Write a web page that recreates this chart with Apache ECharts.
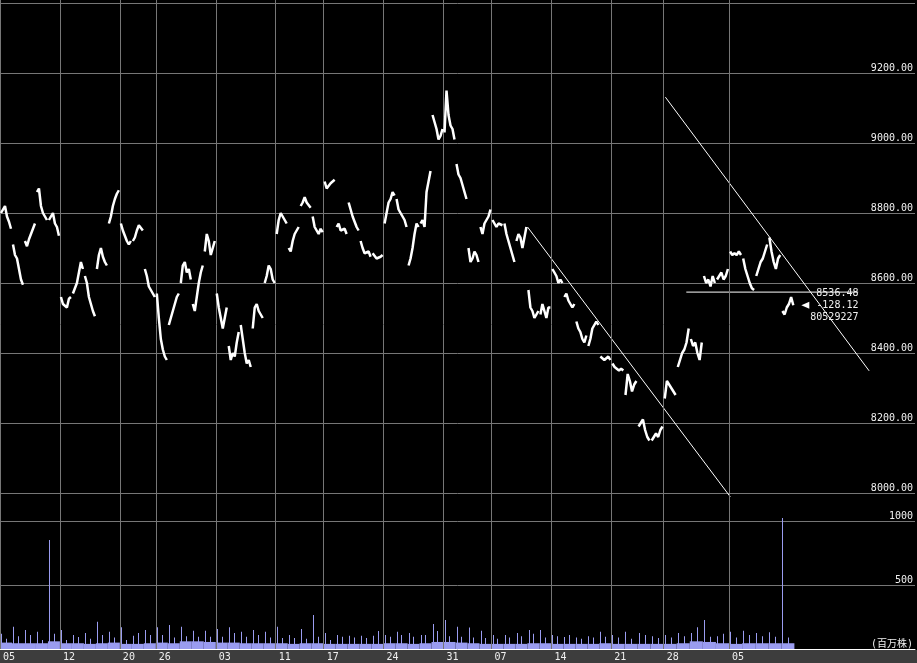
<!DOCTYPE html>
<html><head><meta charset="utf-8">
<script src="https://cdn.jsdelivr.net/npm/echarts@6/dist/echarts.min.js"></script>
<style>html,body{margin:0;padding:0;background:#000;overflow:hidden}#c{width:917px;height:663px}</style>
</head><body><div id="c"></div>
<script>
// ---- data ----
const tradingDays = [
 '2011-09-05','2011-09-06','2011-09-07','2011-09-08','2011-09-09',
 '2011-09-12','2011-09-13','2011-09-14','2011-09-15','2011-09-16',
 '2011-09-20','2011-09-21','2011-09-22',
 '2011-09-26','2011-09-27','2011-09-28','2011-09-29','2011-09-30',
 '2011-10-03','2011-10-04','2011-10-05','2011-10-06','2011-10-07',
 '2011-10-11','2011-10-12','2011-10-13','2011-10-14',
 '2011-10-17','2011-10-18','2011-10-19','2011-10-20','2011-10-21',
 '2011-10-24','2011-10-25','2011-10-26','2011-10-27','2011-10-28',
 '2011-10-31','2011-11-01','2011-11-02','2011-11-04',
 '2011-11-07','2011-11-08','2011-11-09','2011-11-10','2011-11-11',
 '2011-11-14','2011-11-15','2011-11-16','2011-11-17','2011-11-18',
 '2011-11-21','2011-11-22','2011-11-24','2011-11-25',
 '2011-11-28','2011-11-29','2011-11-30','2011-12-01','2011-12-02',
 '2011-12-05','2011-12-06','2011-12-07','2011-12-08','2011-12-09'
];
// intraday price path for each day (left to right)
const priceByDay = [
 [8800,8810,8820,8790,8775,8755],[8710,8680,8670,8640,8610,8595],[8720,8705,8725,8740,8755,8770],
 [8860,8870,8820,8800,8790,8780],[8780,8790,8800,8770,8760,8735],
 [8560,8540,8545,8530,8555,8560],[8570,8585,8600,8630,8660,8640],[8620,8600,8560,8540,8520,8505],
 [8640,8680,8700,8675,8660,8650],[8770,8790,8820,8840,8855,8865],
 [8770,8750,8735,8720,8710,8720],[8720,8730,8750,8765,8760,8750],[8640,8620,8590,8580,8575,8560],
 [8570,8500,8440,8410,8390,8380],[8480,8500,8520,8540,8560,8570],[8600,8650,8660,8630,8640,8610],
 [8540,8520,8560,8600,8630,8650],[8690,8740,8720,8680,8700,8720],
 [8570,8530,8500,8470,8500,8530],[8420,8380,8400,8390,8430,8460],[8480,8440,8400,8370,8380,8360],
 [8470,8530,8540,8520,8510,8500],[8600,8620,8650,8640,8610,8600],
 [8740,8780,8800,8790,8780,8770],[8700,8690,8720,8740,8750,8760],[8820,8830,8845,8830,8825,8815],
 [8790,8760,8750,8740,8755,8745],
 [8890,8870,8875,8885,8880,8895],[8760,8770,8750,8745,8755,8740],[8830,8810,8790,8775,8760,8750],
 [8720,8700,8685,8680,8690,8675],[8685,8680,8670,8665,8675,8680],
 [8770,8800,8830,8840,8860,8850],[8840,8810,8800,8795,8780,8760],[8650,8670,8700,8740,8770,8760],
 [8770,8780,8760,8860,8890,8920],[9080,9060,9040,9010,9020,9040],
 [9030,9150,9080,9050,9040,9010],[8940,8910,8900,8880,8860,8840],[8700,8660,8670,8690,8680,8660],
 [8760,8740,8770,8780,8790,8810],
 [8780,8770,8760,8770,8775,8765],[8770,8740,8720,8700,8680,8660],[8720,8740,8730,8700,8730,8760],
 [8580,8530,8520,8500,8510,8520],[8510,8540,8520,8500,8530,8530],
 [8640,8630,8620,8600,8610,8600],[8560,8570,8550,8545,8530,8540],[8490,8470,8460,8440,8430,8450],
 [8420,8440,8470,8480,8490,8480],[8390,8385,8380,8375,8390,8380],
 [8370,8360,8355,8350,8355,8350],[8280,8340,8320,8290,8310,8320],[8190,8200,8210,8180,8160,8150],
 [8150,8160,8170,8160,8180,8190],
 [8270,8320,8310,8300,8290,8280],[8360,8380,8400,8410,8430,8470],[8440,8420,8430,8400,8380,8430],
 [8620,8600,8610,8590,8620,8600],[8610,8620,8630,8610,8620,8640],
 [8690,8680,8685,8680,8690,8680],[8670,8640,8620,8600,8585,8580],[8620,8640,8660,8670,8690,8710],
 [8730,8690,8660,8640,8670,8680],[8520,8510,8530,8540,8560,8536.46]
];
// volume (million shares): opening spike, afternoon-open spike, typical level
const volumeOpen = [120,174,148,135,852,148,109,125,213,135,170,104,148,169,187,174,143,143,156,169,
 135,148,135,174,109,156,265,125,109,104,104,104,109,135,125,110,195,226,174,167,143,109,109,125,148,
 148,109,94,89,99,135,109,135,125,99,109,125,125,226,99,135,143,125,130,1023];
const volumeAfternoon = [80,100,109,70,120,70,94,80,109,90,70,125,109,109,90,100,95,95,95,125,95,109,90,
 85,85,80,95,70,95,90,85,140,95,109,95,109,140,100,95,90,85,80,90,100,120,90,100,110,80,90,95,90,80,110,
 85,90,100,170,95,120,90,110,100,95,90];
const volumeBase = [50,45,45,45,60,45,45,40,45,50,40,40,45,50,45,60,60,55,50,50,45,45,45,45,40,45,45,40,
 40,40,40,40,45,45,40,45,55,55,50,45,40,40,40,40,45,45,40,40,40,40,45,40,40,40,40,40,45,60,55,45,40,45,45,45,45];
const lastQuote = {price: '8536.48', change: '-128.12', volume: '80529227', value: 8536.46};
// drawn trend lines, in session-slot units
const lowerTrend = [[484.1, 8760], [670.2, 7989]];
const upperTrend = [[610.6, 9131], [797.6, 8349]];
const supportLine = [[629.8, 8574], [787.5, 8574]];
const priceMin = 8000, priceMax = 9400, priceStep = 200;
const volMax = 1000, volStep = 500, volUnit = '(百万株)';

// ---- derived ----
const sessionSlots = tradingDays.map(d => d >= '2011-11-21' ? 12 : 11);
const morningShare = tradingDays.map(d => d >= '2011-11-21' ? 150/300 : 120/270);
const dayStart = []; let acc = 0;
sessionSlots.forEach(L => { dayStart.push(acc); acc += L; });
const priceData = [];
priceByDay.forEach((arr, k) => {
  arr.forEach((p, j) => priceData.push([dayStart[k] + (j + 0.5) * sessionSlots[k] / arr.length, p]));
  priceData.push([dayStart[k] + sessionSlots[k], '-']);
});
const lastPoint = priceData[priceData.length - 2];
const spikeData = [];
tradingDays.forEach((d, k) => {
  spikeData.push([dayStart[k] + 1, volumeOpen[k]]);
  spikeData.push([dayStart[k] + 1 + (sessionSlots[k] - 1) * morningShare[k], volumeAfternoon[k]]);
});
const baseData = tradingDays.map((d, k) => [dayStart[k], dayStart[k] + sessionSlots[k], volumeBase[k]]);
const weekStarts = [], weekLabels = [];
tradingDays.forEach((d, k) => {
  const dt = new Date(d + 'T00:00:00');
  const prev = k ? new Date(tradingDays[k-1] + 'T00:00:00') : null;
  if (!prev || dt.getDay() < prev.getDay() || (dt - prev) > 4 * 864e5) {
    weekStarts.push(dayStart[k]); weekLabels.push(d.slice(8));
  }
});

const GRID = '#767676', TXT = '#f0f0f0', VOL = '#9a9cf0';
const FONT = '"DejaVu Sans Mono", "Noto Sans CJK JP", monospace';
const X0 = 0, X1 = 839.67;
const xBase = { type: 'value', min: X0, max: X1, show: false, splitLine: {show: false} };

const chart = echarts.init(document.getElementById('c'), null, {renderer: 'canvas'});
chart.setOption({
  backgroundColor: '#000',
  animation: false,
  graphic: [{type: 'rect', z: -10, shape: {x: 0, y: 650, width: 917, height: 13}, style: {fill: '#3d3d3d'}}],
  grid: [
    {left: -1, right: 2, top: 3, height: 490},
    {left: -1, right: 2, top: 521, height: 128},
    {left: -1, right: 2, top: 0, height: 649}
  ],
  xAxis: [
    Object.assign({gridIndex: 0}, xBase),
    {
      gridIndex: 1, type: 'value', min: X0, max: X1, show: true,
      splitLine: {show: false}, axisTick: {show: false},
      axisLine: {show: true, lineStyle: {color: '#ffffff', width: 1}},
      axisLabel: {
        customValues: weekStarts, align: 'left', margin: 3, padding: [0, 0, 0, 3],
        showMinLabel: true, hideOverlap: false,
        color: TXT, fontFamily: FONT, fontSize: 10,
        formatter: v => { const i = weekStarts.indexOf(v); return i >= 0 ? weekLabels[i] : ''; }
      }
    },
    Object.assign({gridIndex: 2}, xBase)
  ],
  yAxis: [
    {
      gridIndex: 0, type: 'value', position: 'right', min: priceMin, max: priceMax, interval: priceStep,
      axisLine: {show: false}, axisTick: {show: false},
      splitLine: {show: true, lineStyle: {color: GRID, width: 1}},
      axisLabel: {inside: true, verticalAlign: 'bottom', margin: 2, color: TXT, fontFamily: FONT, fontSize: 10,
        showMaxLabel: false, formatter: v => v.toFixed(2)}
    },
    {
      gridIndex: 1, type: 'value', position: 'right', min: 0, max: volMax, interval: volStep,
      axisLine: {show: false}, axisTick: {show: false},
      splitLine: {show: true, lineStyle: {color: GRID, width: 1}},
      axisLabel: {inside: true, verticalAlign: 'bottom', margin: 2, color: TXT, fontFamily: FONT, fontSize: 10,
        formatter: v => v === 0 ? volUnit : String(v)}
    },
    {
      gridIndex: 2, type: 'value', position: 'right', min: 0, max: 1, show: true,
      axisLine: {show: true, lineStyle: {color: GRID}}, axisTick: {show: false}, axisLabel: {show: false},
      splitLine: {show: false}
    }
  ],
  series: [
    {
      type: 'line', xAxisIndex: 2, yAxisIndex: 2, data: [], silent: true, z: 1,
      markLine: {silent: true, symbol: 'none', label: {show: false}, animation: false,
        lineStyle: {color: GRID, width: 1, type: 'solid'},
        data: weekStarts.map(s => ({xAxis: s}))}
    },
    {
      type: 'line', xAxisIndex: 0, yAxisIndex: 0, data: priceData, z: 5,
      showSymbol: false, symbol: 'none', connectNulls: false,
      lineStyle: {color: '#ffffff', width: 2.5},
      markPoint: {
        silent: true, animation: false,
        data: [{coord: [lastPoint[0], lastQuote.value], symbol: 'triangle', symbolSize: [7, 8], symbolRotate: 90,
          symbolOffset: [12, 0], itemStyle: {color: '#ffffff'},
          label: {show: true, position: 'right', distance: 1, color: TXT, fontFamily: FONT, fontSize: 10, lineHeight: 12,
            formatter: ' ' + lastQuote.price + '\n ' + lastQuote.change + '\n' + lastQuote.volume}}]
      }
    },
    {type: 'line', xAxisIndex: 0, yAxisIndex: 0, data: lowerTrend, symbol: 'none', clip: false, z: 4,
      lineStyle: {color: '#ffffff', width: 1}},
    {type: 'line', xAxisIndex: 0, yAxisIndex: 0, data: upperTrend, symbol: 'none', clip: false, z: 4,
      lineStyle: {color: '#ffffff', width: 1}},
    {type: 'line', xAxisIndex: 0, yAxisIndex: 0, data: supportLine, symbol: 'none', clip: false, z: 4,
      lineStyle: {color: '#ffffff', width: 1}},
    {
      type: 'custom', xAxisIndex: 1, yAxisIndex: 1, data: baseData, z: 3, encode: {x: [0, 1], y: 2},
      renderItem: (params, api) => {
        const a = api.coord([api.value(0), api.value(2)]);
        const b = api.coord([api.value(1), 0]);
        return {type: 'rect', shape: {x: a[0], y: a[1], width: b[0] - a[0], height: b[1] - a[1]}, style: {fill: VOL}};
      }
    },
    {
      type: 'custom', xAxisIndex: 1, yAxisIndex: 1, data: spikeData, z: 3, encode: {x: 0, y: 1},
      renderItem: (params, api) => {
        const t = api.coord([api.value(0), api.value(1)]);
        const b = api.coord([api.value(0), 0]);
        return {type: 'rect', shape: {x: Math.round(t[0]), y: t[1], width: 1, height: b[1] - t[1]}, style: {fill: VOL}};
      }
    }
  ]
});
</script></body></html>
